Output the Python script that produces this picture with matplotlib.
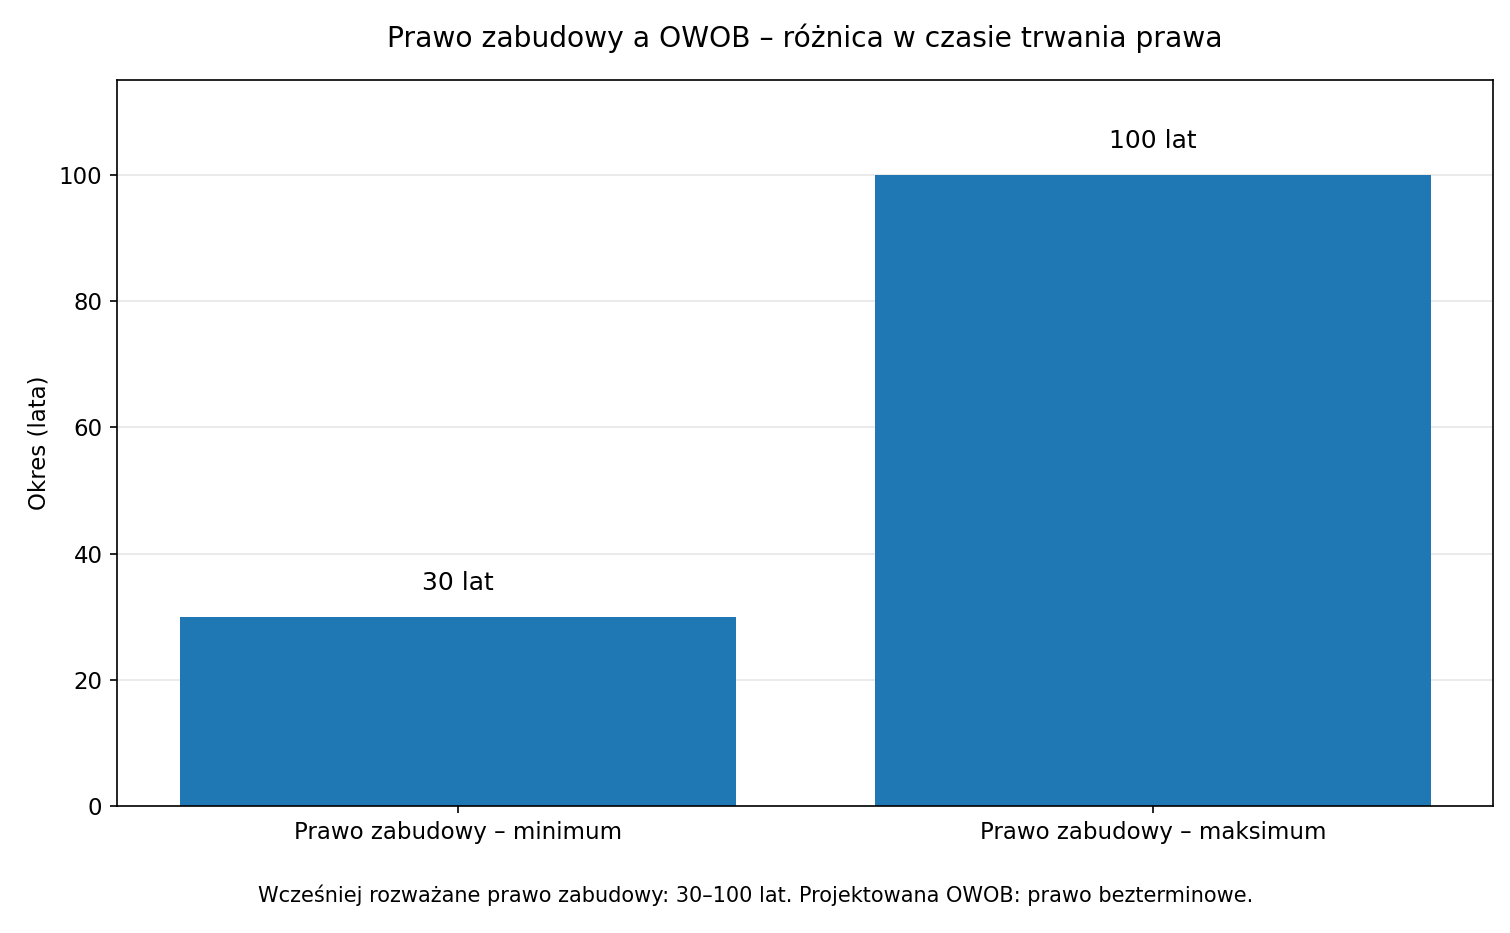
import matplotlib
matplotlib.use("Agg")
import matplotlib.pyplot as plt

# data
categories = ["Prawo zabudowy – minimum", "Prawo zabudowy – maksimum"]
years = [30, 100]
bar_labels = ["30 lat", "100 lat"]

fig, ax = plt.subplots(figsize=(10.07, 6.22), dpi=150)
fig.subplots_adjust(left=0.0775, right=0.9887, top=0.914, bottom=0.136)

bars = ax.bar(categories, years, color="#1f77b4", width=0.8)
for b, lab in zip(bars, bar_labels):
    ax.text(b.get_x() + b.get_width() / 2, b.get_height() + 3.5, lab,
            ha="center", va="bottom", fontsize=12)

ax.set_ylim(0, 115)
ax.set_yticks([0, 20, 40, 60, 80, 100])
ax.yaxis.grid(True, color="#e6e6e6", linewidth=0.8)
ax.set_axisbelow(True)
ax.set_ylabel("Okres (lata)", fontsize=11)
ax.tick_params(labelsize=11)
ax.set_title("Prawo zabudowy a OWOB – różnica w czasie trwania prawa", fontsize=13.5, pad=16)

fig.text(0.5, 0.033, "Wcześniej rozważane prawo zabudowy: 30–100 lat. Projektowana OWOB: prawo bezterminowe.",
         ha="center", fontsize=10)

fig.savefig("out.png", dpi=150)
